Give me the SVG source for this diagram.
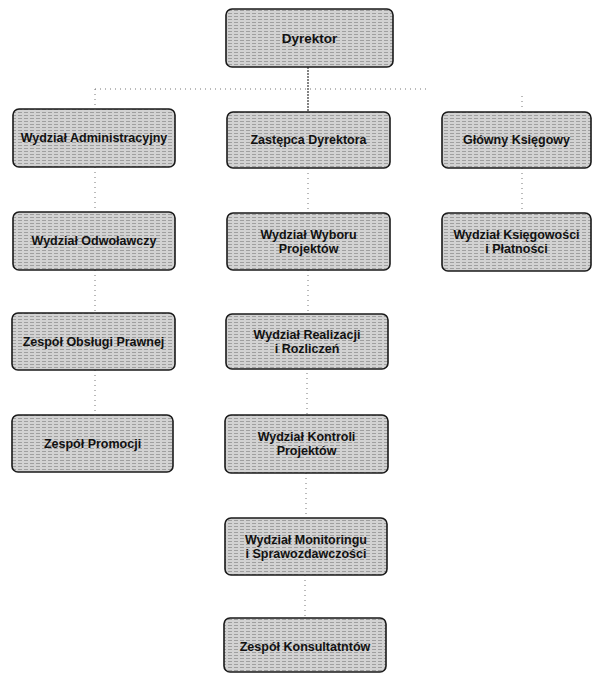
<svg xmlns="http://www.w3.org/2000/svg" width="593" height="674" viewBox="0 0 593 674">
  <defs>
    <pattern id="scan" width="6" height="3" patternUnits="userSpaceOnUse">
      <rect width="6" height="3" fill="#d2d2d2"/>
      <line x1="0" y1="1.5" x2="4" y2="1.5" stroke="#8a8a8a" stroke-width="0.7"/>
    </pattern>
  </defs>
  <style>
    .box { fill: url(#scan); stroke: #1a1a1a; stroke-width: 1.6; }
    .lbl { font-family: "Liberation Sans", Arial, sans-serif; font-weight: bold; font-size: 12.5px; fill: #111; text-anchor: middle; }
    .big { font-size: 13.5px; }
    .dot { stroke: #777; stroke-width: 1; stroke-dasharray: 1 4; fill: none; }
    .main { stroke: #333; stroke-width: 1.2; stroke-dasharray: 2 1; fill: none; }
  </style>
  <rect width="593" height="674" fill="#ffffff"/>

  <g id="connectors">
    <line class="main" x1="308" y1="67" x2="308" y2="112"/>
    <line class="dot" x1="95" y1="89" x2="430" y2="89"/>
    <line class="dot" x1="95" y1="89" x2="95" y2="109"/>
    <line class="dot" x1="522" y1="96" x2="522" y2="112"/>
    <line class="dot" x1="95" y1="167" x2="95" y2="212"/>
    <line class="dot" x1="95" y1="270" x2="95" y2="313"/>
    <line class="dot" x1="95" y1="370" x2="95" y2="415"/>
    <line class="dot" x1="308" y1="168" x2="308" y2="213"/>
    <line class="dot" x1="308" y1="270" x2="308" y2="314"/>
    <line class="dot" x1="307" y1="368" x2="307" y2="415"/>
    <line class="dot" x1="306" y1="473" x2="306" y2="518"/>
    <line class="dot" x1="305" y1="575" x2="305" y2="618"/>
    <line class="dot" x1="522" y1="168" x2="522" y2="213"/>
  </g>

  <g id="n-dyrektor">
    <rect class="box" x="226" y="9" width="167" height="58" rx="6"/>
    <text class="lbl big" x="309.5" y="43">Dyrektor</text>
  </g>

  <g id="n-administracyjny">
    <rect class="box" x="13" y="109" width="162" height="58" rx="6"/>
    <text class="lbl" x="94" y="142">Wydział Administracyjny</text>
  </g>
  <g id="n-odwolawczy">
    <rect class="box" x="13" y="212" width="162" height="58" rx="6"/>
    <text class="lbl" x="94" y="245">Wydział Odwoławczy</text>
  </g>
  <g id="n-prawny">
    <rect class="box" x="12" y="313" width="163" height="57" rx="6"/>
    <text class="lbl" x="93.5" y="346">Zespół Obsługi Prawnej</text>
  </g>
  <g id="n-promocja">
    <rect class="box" x="12" y="415" width="161" height="57" rx="6"/>
    <text class="lbl" x="92.5" y="448">Zespół Promocji</text>
  </g>

  <g id="n-zastepca">
    <rect class="box" x="227" y="112" width="163" height="56" rx="6"/>
    <text class="lbl" x="308.5" y="144">Zastępca Dyrektora</text>
  </g>
  <g id="n-wybor">
    <rect class="box" x="227" y="213" width="163" height="57" rx="6"/>
    <text class="lbl" x="308.5" y="239">Wydział Wyboru</text>
    <text class="lbl" x="308.5" y="253">Projektów</text>
  </g>
  <g id="n-realizacja">
    <rect class="box" x="226" y="314" width="162" height="55" rx="6"/>
    <text class="lbl" x="307" y="339">Wydział Realizacji</text>
    <text class="lbl" x="307" y="353">i Rozliczeń</text>
  </g>
  <g id="n-kontrola">
    <rect class="box" x="225" y="415" width="163" height="58" rx="6"/>
    <text class="lbl" x="306.5" y="441">Wydział Kontroli</text>
    <text class="lbl" x="306.5" y="455">Projektów</text>
  </g>
  <g id="n-monitoring">
    <rect class="box" x="225" y="518" width="162" height="57" rx="6"/>
    <text class="lbl" x="306" y="544">Wydział Monitoringu</text>
    <text class="lbl" x="306" y="558">i Sprawozdawczości</text>
  </g>
  <g id="n-konsultanci">
    <rect class="box" x="224" y="618" width="162" height="54" rx="6"/>
    <text class="lbl" x="305" y="651">Zespół Konsultatntów</text>
  </g>

  <g id="n-ksiegowy">
    <rect class="box" x="442" y="112" width="149" height="56" rx="6"/>
    <text class="lbl" x="516.5" y="144">Główny Księgowy</text>
  </g>
  <g id="n-ksiegowosc">
    <rect class="box" x="442" y="213" width="149" height="58" rx="6"/>
    <text class="lbl" x="516.5" y="239">Wydział Księgowości</text>
    <text class="lbl" x="516.5" y="253">i Płatności</text>
  </g>
</svg>
